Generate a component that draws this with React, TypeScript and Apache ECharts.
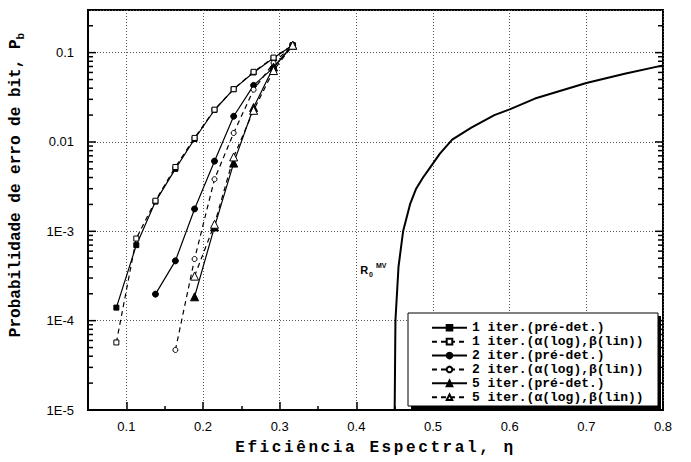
import React, { useEffect, useRef } from 'react';
import * as echarts from 'echarts';

// ---- data ----
const iter1PreX = [0.087, 0.113, 0.138, 0.164, 0.189, 0.215, 0.240, 0.266, 0.292, 0.317];
const iter1PreY = [1.4e-4, 7.0e-4, 2.15e-3, 5.0e-3, 0.0108, 0.0228, 0.039, 0.060, 0.087, 0.121];

const iter1ABX = [0.087, 0.113, 0.138, 0.164, 0.189, 0.215, 0.240, 0.266, 0.292, 0.317];
const iter1ABY = [5.7e-5, 8.3e-4, 2.2e-3, 5.25e-3, 0.0111, 0.023, 0.039, 0.061, 0.088, 0.121];

const iter2PreX = [0.138, 0.164, 0.189, 0.215, 0.240, 0.266, 0.292, 0.317];
const iter2PreY = [1.98e-4, 4.67e-4, 1.78e-3, 6.1e-3, 0.0194, 0.043, 0.068, 0.121];

const iter2ABX = [0.164, 0.189, 0.215, 0.240, 0.266, 0.292, 0.317];
const iter2ABY = [4.7e-5, 4.9e-4, 3.83e-3, 0.0126, 0.0385, 0.0765, 0.121];

const iter5PreX = [0.189, 0.215, 0.240, 0.266, 0.292, 0.317];
const iter5PreY = [1.85e-4, 1.12e-3, 5.8e-3, 0.0243, 0.069, 0.121];

const iter5ABX = [0.189, 0.215, 0.240, 0.266, 0.292, 0.317];
const iter5ABY = [3.15e-4, 1.2e-3, 6.8e-3, 0.0226, 0.063, 0.121];

const r0X = [0.450, 0.451, 0.455, 0.461, 0.470, 0.478, 0.487, 0.495, 0.509, 0.525, 0.550, 0.580, 0.600, 0.633, 0.700, 0.750, 0.800];
const r0Y = [1e-5, 1e-4, 4e-4, 1e-3, 2e-3, 3e-3, 4e-3, 5e-3, 7.4e-3, 0.0106, 0.0145, 0.020, 0.0232, 0.0306, 0.0457, 0.058, 0.072];

const seriesNames = [
  '1 iter.(pré-det.)',
  '1 iter.(α(log),β(lin))',
  '2 iter.(pré-det.)',
  '2 iter.(α(log),β(lin))',
  '5 iter.(pré-det.)',
  '5 iter.(α(log),β(lin))',
];

const X_TITLE = 'Eficiência Espectral, η';

// log tick positions (decades and mantissas)
const tickDecades = [-5, -4, -3, -2, -1];
const tickMantissas = [1, 2, 3, 4, 5, 6, 7, 8, 9];

const X_MIN = 0.05;
const X_MAX = 0.8;
const Y_MIN = 1e-5;
const Y_MAX = 0.3;

const zip = (xs: number[], ys: number[]) => xs.map((x, i) => [x, ys[i]]);

const MONO = 'Liberation Mono';
const SANS = 'Liberation Sans';

export default function App() {
  const ref = useRef<HTMLDivElement>(null);
  useEffect(() => {
    document.body.style.margin = '0';
    const chart = echarts.init(ref.current!, null, { renderer: 'svg' });

    const tickData: number[][] = [];
    tickDecades.forEach((d) => {
      tickMantissas.forEach((m) => {
        const v = m * Math.pow(10, d);
        if (v <= Y_MAX) tickData.push([X_MIN, v, m === 1 ? 1 : 0]);
      });
    });

    const lineSeries = (name: string, data: number[][], symbol: string, size: number, open: boolean, dashed: boolean) => ({
      name,
      type: 'line',
      data,
      symbol,
      symbolSize: size,
      showSymbol: true,
      z: 3,
      lineStyle: { color: '#000', width: 1.2, type: dashed ? [5, 4] : 'solid' },
      itemStyle: open
        ? { color: '#fff', borderColor: '#000', borderWidth: 1 }
        : { color: '#000', borderColor: '#000', borderWidth: 1 },
    });

    chart.setOption({
      animation: false,
      backgroundColor: '#fff',
      grid: {
        left: 88, right: 28, top: 10, bottom: 52,
        show: true, borderColor: '#000', borderWidth: 2,
      },
      xAxis: {
        type: 'value',
        min: X_MIN, max: X_MAX, splitNumber: 8,
        name: X_TITLE,
        nameLocation: 'middle', nameGap: 30,
        nameTextStyle: { fontFamily: MONO, fontWeight: 'bold', fontSize: 16, color: '#000' },
        axisLine: { onZero: false, lineStyle: { color: '#000', width: 2 } },
        axisTick: { show: true, inside: true, length: 8, lineStyle: { color: '#000', width: 1.5 } },
        minorTick: { show: true, splitNumber: 2, length: 4, lineStyle: { color: '#000', width: 1.5 } },
        axisLabel: {
          showMinLabel: false, margin: 10,
          fontFamily: SANS, fontSize: 13, color: '#000',
          formatter: (v: number) => String(Math.round(v * 10) / 10),
        },
        splitLine: { show: true, lineStyle: { color: '#555', type: [1, 2], width: 1 } },
      },
      yAxis: {
        type: 'log', logBase: 10,
        min: Y_MIN, max: Y_MAX,
        name: '{a|Probabilidade de erro de bit, P}{b|b}',
        nameLocation: 'middle', nameGap: 62, nameRotate: 90,
        nameTextStyle: {
          padding: [0, 0, 0, 50],
          rich: {
            a: { fontFamily: MONO, fontWeight: 'bold', fontSize: 16, color: '#000', lineHeight: 20, verticalAlign: 'middle' },
            b: { fontFamily: MONO, fontWeight: 'bold', fontSize: 11, color: '#000', lineHeight: 20, verticalAlign: 'bottom' },
          },
        },
        axisLine: { lineStyle: { color: '#000', width: 2 } },
        axisTick: { show: false },
        axisLabel: {
          showMaxLabel: false, margin: 14,
          fontFamily: SANS, fontSize: 13, color: '#000',
          formatter: (v: number) => {
            const e = Math.round(Math.log10(v));
            if (e >= -2) return e === -1 ? '0.1' : e === -2 ? '0.01' : String(v);
            return '1E' + e;
          },
        },
        splitLine: { show: true, lineStyle: { color: '#555', type: [1, 2], width: 1 } },
      },
      legend: {
        orient: 'vertical',
        left: 426, top: 316,
        itemWidth: 35, itemHeight: 7, itemGap: 0.4,
        z: 10,
        textStyle: { fontFamily: MONO, fontWeight: 'bold', fontSize: 13, color: '#000', lineHeight: 13.5 },
        data: seriesNames,
      },
      graphic: [
        { type: 'rect', z: 5, shape: { x: 411, y: 316, width: 250, height: 93 }, style: { fill: '#000' } },
        { type: 'rect', z: 6, shape: { x: 408, y: 313, width: 250, height: 93 }, style: { fill: '#fff', stroke: '#000', lineWidth: 1 } },
      ],
      series: [
        {
          name: 'ticks', type: 'custom', silent: true, z: 4,
          encode: { x: 0, y: 1 },
          data: tickData,
          renderItem: (params: any, api: any) => {
            const v = api.value(1);
            const major = api.value(2) === 1;
            const l = api.coord([X_MIN, v]);
            const r = api.coord([X_MAX, v]);
            const len = major ? 8 : 5;
            return {
              type: 'group',
              children: [
                { type: 'line', shape: { x1: l[0], y1: l[1], x2: l[0] + len, y2: l[1] }, style: { stroke: '#000', lineWidth: 1.5 } },
                { type: 'line', shape: { x1: r[0], y1: r[1], x2: r[0] - len, y2: r[1] }, style: { stroke: '#000', lineWidth: 1.5 } },
              ],
            };
          },
        },
        {
          name: 'R0', type: 'line', data: zip(r0X, r0Y), showSymbol: false, symbol: 'none', z: 3,
          lineStyle: { color: '#000', width: 2 },
          markPoint: {
            symbol: 'circle', symbolSize: 0,
            data: [{ coord: [0.405, 3.7e-4] }],
            label: {
              show: true, position: 'right', distance: 0,
              formatter: '{r|R}{s|0}{p|MV}',
              rich: {
                r: { fontFamily: SANS, fontWeight: 'bold', fontSize: 11, color: '#000', lineHeight: 16, verticalAlign: 'middle' },
                s: { fontFamily: SANS, fontWeight: 'bold', fontSize: 7, color: '#000', lineHeight: 16, verticalAlign: 'bottom', padding: [0, 3, 0, 1] },
                p: { fontFamily: SANS, fontWeight: 'bold', fontSize: 7, color: '#000', lineHeight: 16, verticalAlign: 'top' },
              },
            },
          },
        },
        lineSeries(seriesNames[0], zip(iter1PreX, iter1PreY), 'rect', 5, false, false),
        lineSeries(seriesNames[1], zip(iter1ABX, iter1ABY), 'rect', 5, true, true),
        lineSeries(seriesNames[2], zip(iter2PreX, iter2PreY), 'circle', 6, false, false),
        lineSeries(seriesNames[3], zip(iter2ABX, iter2ABY), 'circle', 5, true, true),
        lineSeries(seriesNames[4], zip(iter5PreX, iter5PreY), 'triangle', 8, false, false),
        lineSeries(seriesNames[5], zip(iter5ABX, iter5ABY), 'triangle', 8, true, true),
      ],
    });

    const applySpacing = () => {
      ref.current?.querySelectorAll('text').forEach((t) => {
        if (t.textContent === X_TITLE) t.setAttribute('letter-spacing', '2.6');
      });
    };
    applySpacing();
    chart.on('finished', applySpacing);
    const timer = setTimeout(applySpacing, 50);

    return () => {
      clearTimeout(timer);
      chart.dispose();
    };
  }, []);
  return <div ref={ref} style={{ position: 'absolute', left: 0, top: 0, width: 691, height: 462 }} />;
}
